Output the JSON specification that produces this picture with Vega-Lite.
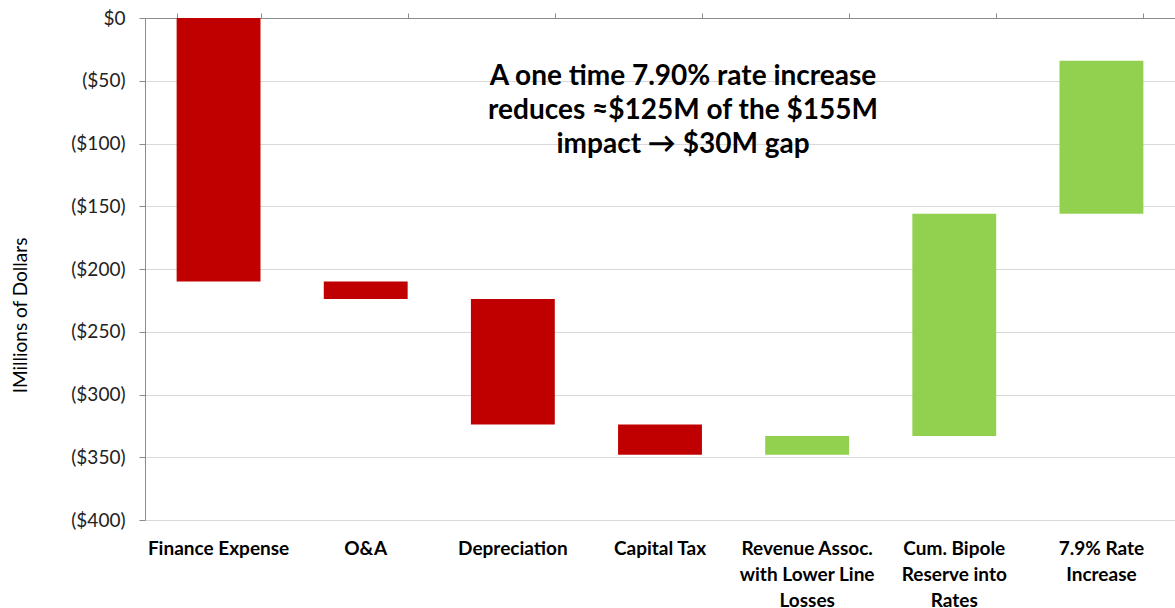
{
  "$schema": "https://vega.github.io/schema/vega-lite/v6.json",
  "autosize": "none",
  "width": 1030,
  "height": 502,
  "padding": {"left": 145, "top": 18, "right": 0, "bottom": 88},
  "background": "white",
  "config": {
    "view": {"stroke": null},
    "font": "Lato"
  },
  "datasets": {
    "bars": [
      {"cat": "Finance Expense", "start": 0, "end": -210, "type": "decrease"},
      {"cat": "O&A", "start": -210, "end": -224, "type": "decrease"},
      {"cat": "Depreciation", "start": -224, "end": -324, "type": "decrease"},
      {"cat": "Capital Tax", "start": -324, "end": -348, "type": "decrease"},
      {"cat": "Revenue Assoc. with Lower Line Losses", "start": -348, "end": -333, "type": "increase"},
      {"cat": "Cum. Bipole Reserve into Rates", "start": -333, "end": -156, "type": "increase"},
      {"cat": "7.9% Rate Increase", "start": -156, "end": -34, "type": "increase"}
    ],
    "note": [
      {"cat": "Capital Tax", "y": -47, "label": "A one time 7.90% rate increase\nreduces ≈$125M of the $155M\nimpact → $30M gap"}
    ]
  },
  "resolve": {"axis": {"x": "independent", "y": "independent"}},
  "layer": [
    {
      "data": {"name": "bars"},
      "mark": {"type": "bar"},
      "encoding": {
        "x": {
          "field": "cat", "type": "nominal", "sort": null,
          "scale": {"paddingInner": 0.43, "paddingOuter": 0.215},
          "axis": {
            "orient": "bottom", "title": null, "domain": false, "ticks": false, "grid": false,
            "labelAngle": 0, "labelFont": "Lato", "labelFontSize": 19, "labelFontWeight": "bold",
            "labelColor": "#000000", "labelPadding": 19, "labelLineHeight": 26, "labelBaseline": "top",
            "labelLimit": 220,
            "labelExpr": "datum.value == 'Revenue Assoc. with Lower Line Losses' ? ['Revenue Assoc.', 'with Lower Line', 'Losses'] : datum.value == 'Cum. Bipole Reserve into Rates' ? ['Cum. Bipole', 'Reserve into', 'Rates'] : datum.value == '7.9% Rate Increase' ? ['7.9% Rate', 'Increase'] : datum.value"
          }
        },
        "y": {
          "field": "start", "type": "quantitative",
          "scale": {"domain": [-400, 0], "nice": false},
          "axis": {
            "title": "IMillions of Dollars", "titleFont": "Lato", "titleFontSize": 19, "titleFontWeight": "normal",
            "titleColor": "#000000", "titlePadding": 40, "titleY": 297,
            "values": [0, -50, -100, -150, -200, -250, -300, -350, -400],
            "labelExpr": "datum.value == 0 ? '$0' : '($' + abs(datum.value) + ')'",
            "labelFont": "Lato", "labelFontSize": 19, "labelColor": "#222222", "labelPadding": 14,
            "tickSize": 6, "tickColor": "#8c8c8c", "domainColor": "#8c8c8c",
            "grid": true, "gridColor": "#d9d9d9", "gridWidth": 1
          }
        },
        "y2": {"field": "end"},
        "color": {
          "field": "type", "type": "nominal",
          "scale": {"domain": ["decrease", "increase"], "range": ["#C00000", "#92D050"]},
          "legend": null
        }
      }
    },
    {
      "data": {"name": "bars"},
      "mark": {"type": "bar", "opacity": 0},
      "encoding": {
        "x": {
          "field": "cat", "type": "nominal", "sort": null,
          "axis": {
            "orient": "top", "title": null, "labels": false,
            "domain": true, "domainColor": "#8c8c8c", "domainWidth": 1,
            "ticks": true, "tickBand": "extent", "tickSize": 5, "tickColor": "#8c8c8c",
            "grid": false
          }
        },
        "y": {"field": "start", "type": "quantitative", "axis": null}
      }
    },
    {
      "data": {"name": "note"},
      "mark": {"type": "text", "font": "Lato", "fontSize": 28, "fontWeight": "bold", "color": "#000000",
               "align": "center", "baseline": "middle", "lineBreak": "\n", "lineHeight": 34, "dx": 23},
      "encoding": {
        "x": {"field": "cat", "type": "nominal", "sort": null, "axis": null},
        "y": {"field": "y", "type": "quantitative", "axis": null},
        "text": {"field": "label"}
      }
    }
  ]
}
